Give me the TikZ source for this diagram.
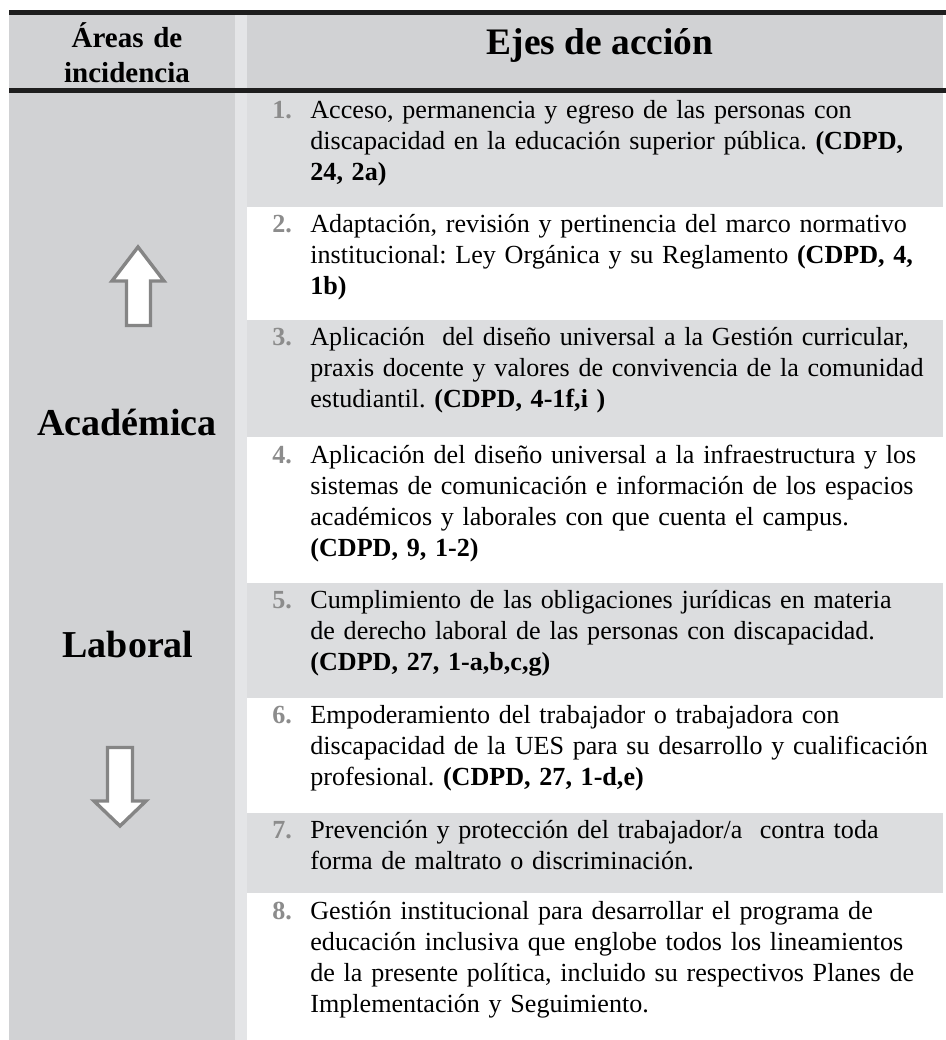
\documentclass[tikz,border=0pt]{standalone}
\usepackage{fontspec}
\setmainfont{Liberation Serif}
\usepackage{tikz}
\definecolor{colgrey}{HTML}{D1D2D4}
\definecolor{rowgrey}{HTML}{DCDDDF}
\definecolor{gapgrey}{HTML}{E4E5E7}
\definecolor{numgrey}{HTML}{8C8C8C}
\definecolor{arrowgrey}{HTML}{858585}
\definecolor{rulegrey}{HTML}{1E1E1E}
\newcommand{\cdpd}[1]{\textbf{#1}}
\frenchspacing

\begin{document}
\begin{tikzpicture}[x=0.5pt,y=-0.5pt,
  item/.style={anchor=base west,inner sep=0pt,text width=330pt,align=left,
    font=\fontsize{13.05}{15.5}\selectfont},
  num/.style={anchor=base west,inner sep=0pt,text=numgrey,
    font=\fontsize{13.05}{15.5}\selectfont\bfseries},
  area/.style={anchor=base,inner sep=0pt,font=\fontsize{19}{22}\selectfont\bfseries},
  updown/.style={draw=arrowgrey,fill=white,line width=1.7pt,line join=miter}]
  \useasboundingbox (0,0) rectangle (946,1040);
  \begin{scope}
   % columns and header
   \fill[colgrey]  (9,15)    rectangle (235,1040);
   \fill[gapgrey]  (235,15)  rectangle (247,1040);
   \fill[colgrey]  (247,15)  rectangle (943,88);
   % shaded rows
   \fill[rowgrey]  (247,93)  rectangle (943,207);
   \fill[rowgrey]  (247,320) rectangle (943,437);
   \fill[rowgrey]  (247,583) rectangle (943,698);
   \fill[rowgrey]  (247,813) rectangle (943,893);
   % rules
   \fill[rulegrey] (9,10)    rectangle (946,15);
   \fill[rulegrey] (9,88)    rectangle (946,93);
   % header
   \node (hdarea) [anchor=base,inner sep=0pt,text width=110pt,align=center,
     font=\fontsize{14.5}{17.5}\selectfont\bfseries] at (127,47) {Áreas de\\incidencia};
   \node (hdaxes) [anchor=base,inner sep=0pt,font=\fontsize{18.7}{20}\selectfont\bfseries]
     at (600,54) {Ejes de acción};
   % areas
   \node (acad) [area] at (127,435) {Académica};
   \node (labo) [area] at (128,657) {Laboral};
   \draw[updown] (138,247) -- (112,281) -- (126.5,281) -- (126.5,325.5)
     -- (150.5,325.5) -- (150.5,281) -- (164,281) -- cycle;
   \draw[updown] (107.5,747.5) -- (132.5,747.5) -- (132.5,801) -- (146,801)
     -- (120,826) -- (94,801) -- (107.5,801) -- cycle;
   % items
   \node (n1) [num] at (272,118) {1.};
   \node (e1) [item] at (310,118) {Acceso, permanencia y egreso de las personas con\\
     discapacidad en la educación superior pública. \cdpd{(CDPD,}\\ \cdpd{24, 2a)}};
   \node (n2) [num] at (272,232) {2.};
   \node (e2) [item] at (310,232) {Adaptación, revisión y pertinencia del marco normativo\\
     institucional: Ley Orgánica y su Reglamento \cdpd{(CDPD, 4,}\\ \cdpd{1b)}};
   \node (n3) [num] at (272,345) {3.};
   \node (e3) [item] at (310,345) {Aplicación~ del diseño universal a la Gestión curricular,\\
     praxis docente y valores de convivencia de la comunidad\\
     estudiantil. \cdpd{(CDPD, 4-1f,i )}};
   \node (n4) [num] at (272,463) {4.};
   \node (e4) [item] at (310,463) {Aplicación del diseño universal a la infraestructura y los\\
     sistemas de comunicación e información de los espacios\\
     académicos y laborales con que cuenta el campus.\\ \cdpd{(CDPD, 9, 1-2)}};
   \node (n5) [num] at (272,608) {5.};
   \node (e5) [item] at (310,608) {Cumplimiento de las obligaciones jurídicas en materia\\
     de derecho laboral de las personas con discapacidad.\\ \cdpd{(CDPD, 27, 1-a,b,c,g)}};
   \node (n6) [num] at (272,723) {6.};
   \node (e6) [item] at (310,723) {Empoderamiento del trabajador o trabajadora con\\
     discapacidad de la UES para su desarrollo y cualificación\\
     profesional. \cdpd{(CDPD, 27, 1-d,e)}};
   \node (n7) [num] at (272,838) {7.};
   \node (e7) [item] at (310,838) {Prevención y protección del trabajador/a~ contra toda\\
     forma de maltrato o discriminación.};
   \node (n8) [num] at (272,919) {8.};
   \node (e8) [item] at (310,919) {Gestión institucional para desarrollar el programa de\\
     educación inclusiva que englobe todos los lineamientos\\
     de la presente política, incluido su respectivos Planes de\\
     Implementación y Seguimiento.};
  \end{scope}
\end{tikzpicture}
\end{document}
